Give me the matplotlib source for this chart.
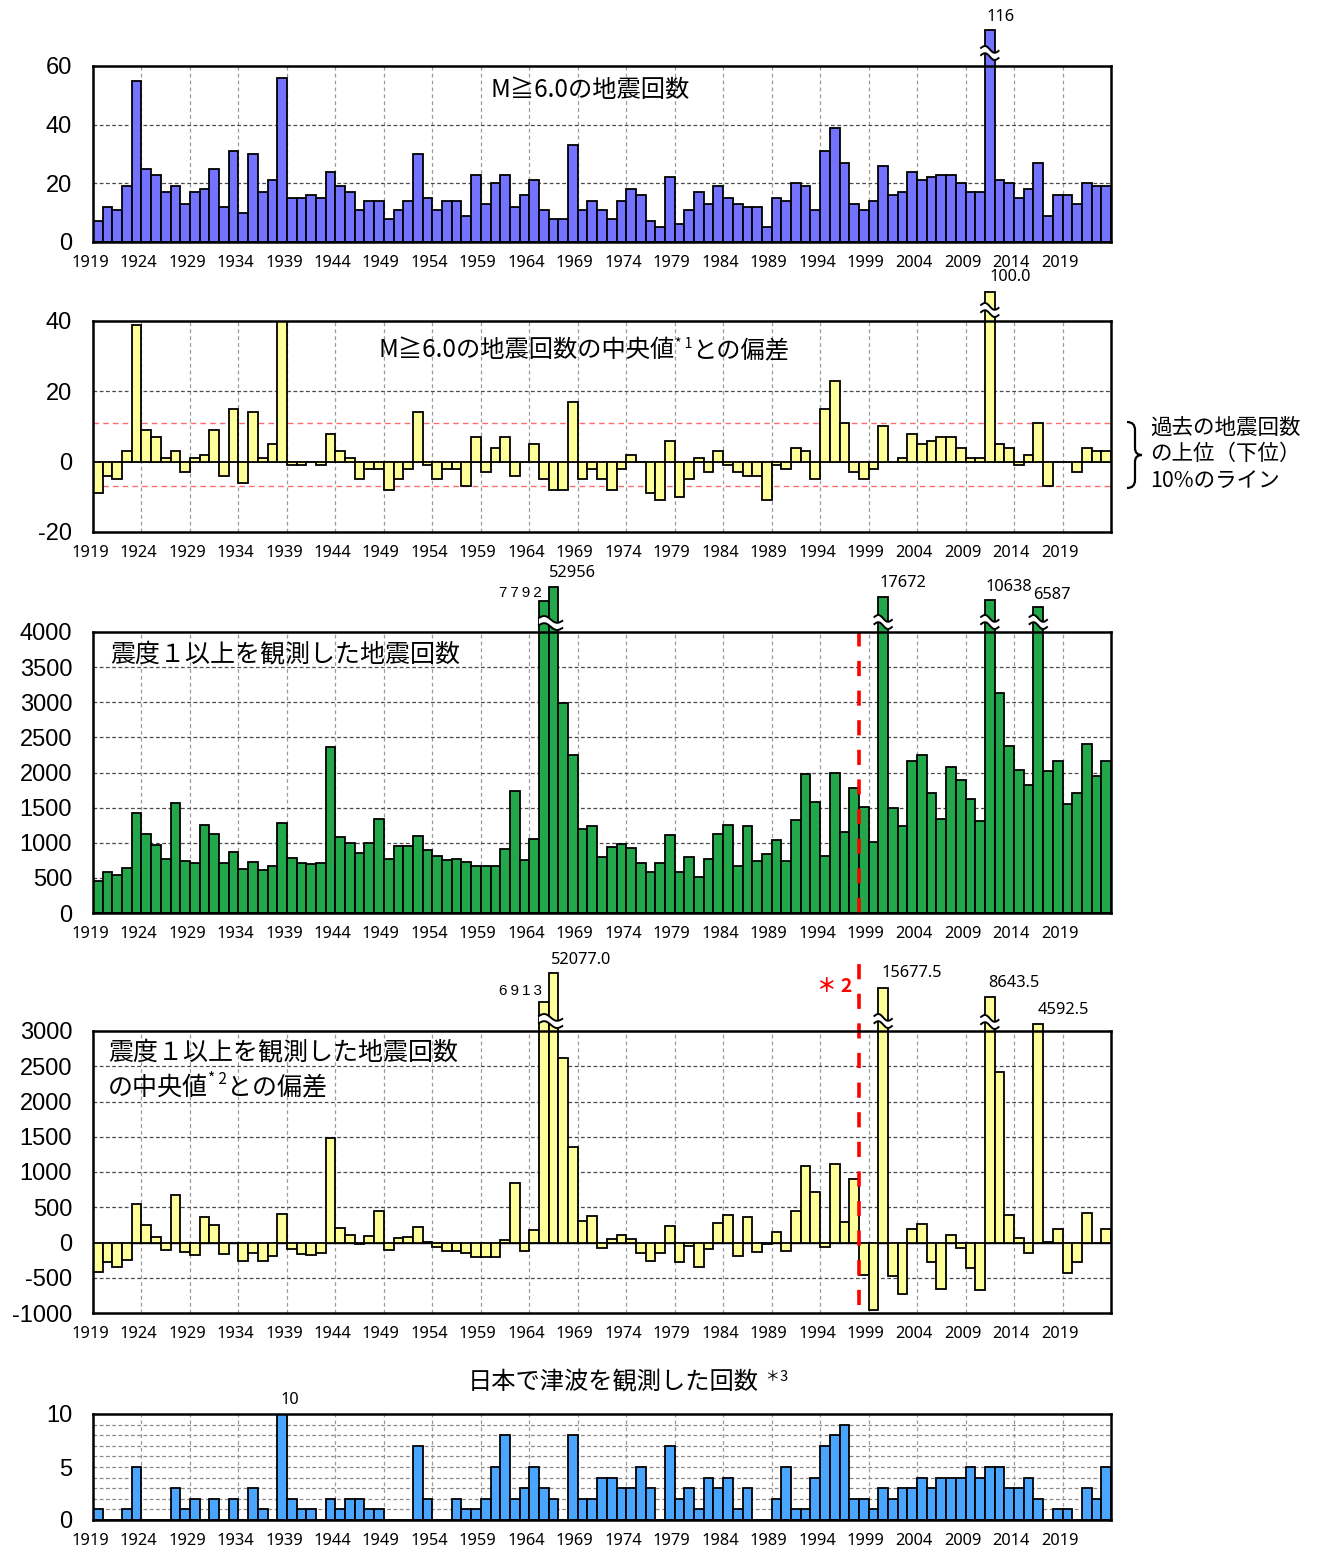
import numpy as np
import matplotlib
matplotlib.use("Agg")
import matplotlib.pyplot as plt
from matplotlib import transforms
from matplotlib.path import Path
from matplotlib.patches import PathPatch
from matplotlib.font_manager import findfont, FontProperties

# ---------------- data ----------------
years = list(range(1919, 2024))
tick_years = list(range(1919, 2020, 5))

m6_counts = [7, 12, 11, 19, 55, 25, 23, 17, 19, 13,
             17, 18, 25, 12, 31, 10, 30, 17, 21, 56,
             15, 15, 16, 15, 24, 19, 17, 11, 14, 14,
             8, 11, 14, 30, 15, 11, 14, 14, 9, 23,
             13, 20, 23, 12, 16, 21, 11, 8, 8, 33,
             11, 14, 11, 8, 14, 18, 16, 7, 5, 22,
             6, 11, 17, 13, 19, 15, 13, 12, 12, 5,
             15, 14, 20, 19, 11, 31, 39, 27, 13, 11,
             14, 26, 16, 17, 24, 21, 22, 23, 23, 20,
             17, 17, 116, 21, 20, 15, 18, 27, 9, 16,
             16, 13, 20, 19, 19]

m6_dev = [-9, -4, -5, 3, 39, 9, 7, 1, 3, -3,
          1, 2, 9, -4, 15, -6, 14, 1, 5, 40,
          -1, -1, 0, -1, 8, 3, 1, -5, -2, -2,
          -8, -5, -2, 14, -1, -5, -2, -2, -7, 7,
          -3, 4, 7, -4, 0, 5, -5, -8, -8, 17,
          -5, -2, -5, -8, -2, 2, 0, -9, -11, 6,
          -10, -5, 1, -3, 3, -1, -3, -4, -4, -11,
          -1, -2, 4, 3, -5, 15, 23, 11, -3, -5,
          -2, 10, 0, 1, 8, 5, 6, 7, 7, 4,
          1, 1, 100.0, 5, 4, -1, 2, 11, -7, 0,
          0, -3, 4, 3, 3]
m6_dev_upper10 = 11
m6_dev_lower10 = -7

shindo_counts = [450, 590, 540, 640, 1420, 1130, 970, 770, 1570, 745,
                 710, 1250, 1120, 710, 870, 620, 725, 610, 675, 1280,
                 790, 710, 700, 715, 2370, 1080, 990, 850, 990, 1340,
                 775, 950, 960, 1095, 900, 810, 755, 765, 725, 670,
                 670, 670, 915, 1735, 760, 1060, 7792, 52956, 2990, 2245,
                 1195, 1245, 800, 935, 980, 925, 715, 588, 707, 1110,
                 579, 802, 508, 764, 1129, 1257, 674, 1233, 735, 835,
                 1039, 740, 1319, 1978, 1580, 806, 1997, 1153, 1774, 1513,
                 1015, 17672, 1499, 1243, 2168, 2253, 1708, 1338, 2083, 1893,
                 1618, 1305, 10638, 3126, 2377, 2040, 1826, 6587, 2016, 2168,
                 1556, 1712, 2410, 1950, 2168]

shindo_dev = [-412, -270, -341, -242, 545, 246, 85, -109, 678, -137,
              -171, 360, 246, -161, 0, -256, -147, -265, -194, 403,
              -95, -161, -171, -152, 1483, 199, 104, -28, 95, 450,
              -100, 62, 81, 218, 14, -66, -123, -114, -152, -199,
              -199, -199, 38, 844, -114, 171, 6913, 52077.0, 2620, 1355,
              303, 374, -71, 52, 109, 43, -147, -265, -147, 237,
              -275, -47, -346, -90, 270, 389, -185, 360, -133, -24,
              156, -118, 450, 1090, 711, -62, 1114, 284, 905, -464,
              -962, 15677.5, -474, -725, 185, 261, -280, -654, 100, -81,
              -365, -678, 8643.5, 2417, 384, 57, -147, 4592.5, 9, 185,
              -431, -275, 422, -14, 185]
median_change_year = 1998

tsunami_counts = [1, 0, 0, 1, 5, 0, 0, 0, 3, 1,
                  2, 0, 2, 0, 2, 0, 3, 1, 0, 10,
                  2, 1, 1, 0, 2, 1, 2, 2, 1, 1,
                  0, 0, 0, 7, 2, 0, 0, 2, 1, 1,
                  2, 5, 8, 2, 3, 5, 3, 2, 0, 8,
                  2, 2, 4, 4, 3, 3, 5, 3, 0, 7,
                  2, 3, 1, 4, 3, 4, 1, 3, 0, 0,
                  2, 5, 1, 1, 4, 7, 8, 9, 2, 2,
                  1, 3, 2, 3, 3, 4, 3, 4, 4, 4,
                  5, 4, 5, 5, 3, 3, 4, 2, 0, 1,
                  1, 0, 3, 2, 5]

# ---------------- fonts ----------------
def pick(*fams):
    for f in fams:
        try:
            findfont(FontProperties(family=f), fallback_to_default=False)
            return f
        except Exception:
            pass
    return "DejaVu Sans"

JP = "Noto Sans CJK JP"
NARROW = pick("Noto Sans", "Liberation Sans", "DejaVu Sans")
ARIAL = pick("Liberation Sans", "DejaVu Sans")
plt.rcParams["font.family"] = [JP, "DejaVu Sans"]

W, H = 1319, 1553
fig = plt.figure(figsize=(W / 100, H / 100), dpi=100)
fig.patch.set_facecolor("white")

LEFT, RIGHT = 93, 1111


def add_axes(top, bottom):
    ax = fig.add_axes([LEFT / W, 1 - bottom / H, (RIGHT - LEFT) / W, (bottom - top) / H])
    return ax, bottom - top


def blend(ax):
    return transforms.blended_transform_factory(ax.transData, ax.transAxes)


def style(ax, ylim, yticks, hgrid, hgrid_color="#4a4a4a"):
    ax.set_xlim(years[0] - 0.5, years[-1] + 0.5)
    ax.set_ylim(*ylim)
    ax.set_yticks(yticks)
    ax.set_yticklabels([str(v) for v in yticks], fontfamily=ARIAL, fontsize=17)
    ax.set_xticks([y - 0.5 for y in tick_years])
    ax.set_xticklabels([str(y) for y in tick_years], fontfamily=NARROW, fontsize=11.8)
    ax.tick_params(axis="both", length=0)
    ax.tick_params(axis="y", pad=15)
    ax.tick_params(axis="x", pad=9.5)
    shift = transforms.ScaledTranslation(-3 / 100, 0, fig.dpi_scale_trans)
    for lbl in ax.get_xticklabels():
        lbl.set_transform(lbl.get_transform() + shift)
    for s in ax.spines.values():
        s.set_linewidth(1.8)
        s.set_zorder(7)
    for y in tick_years[1:]:
        ax.axvline(y - 0.5, color="#9a9a9a", lw=0.9, ls=(0, (3, 2.5)), zorder=0.5)
    for v in hgrid:
        ax.axhline(v, color=hgrid_color, lw=0.9, ls=(0, (3, 2)), zorder=0.6)


def bars(ax, vals, color, ylim, ax_h, ext):
    rng = ylim[1] - ylim[0]
    heights = []
    for yr, v in zip(years, vals):
        if yr in ext:
            heights.append(ylim[1] + ext[yr] / ax_h * rng)
        else:
            heights.append(v)
    bc = ax.bar(years, heights, width=1.0, color=color, edgecolor="black",
                linewidth=1.3, zorder=3)
    for p, yr in zip(bc.patches, years):
        if yr in ext:
            p.set_clip_on(False)
    return bc


def zigzag(ax, x0, x1, off_px, ax_h):
    tr = blend(ax)
    t = np.linspace(0, 1, 80)
    xs = x0 + (x1 - x0) * t
    px = 1.0 / ax_h
    wave = (2.6 * np.sin(2 * np.pi * t) - 3.0 * (t - 0.5)) * px
    base = 1 + off_px * px
    gap = 3.6 * px
    upper = base + gap + wave
    lower = base - gap + wave
    ax.fill(np.r_[xs, xs[::-1]], np.r_[upper, lower[::-1]], transform=tr,
            color="white", zorder=5, clip_on=False, lw=0)
    ax.plot(xs, upper, transform=tr, color="black", lw=1.4, zorder=6, clip_on=False)
    ax.plot(xs, lower, transform=tr, color="black", lw=1.4, zorder=6, clip_on=False)


def label(ax, text, year, dx, dy, ha="center", family=None, size=11.8, **kw):
    ax.annotate(text, xy=(year, 1.0), xycoords=blend(ax), xytext=(dx, dy),
                textcoords="offset pixels", ha=ha, va="center",
                fontfamily=family or NARROW, fontsize=size,
                annotation_clip=False, zorder=8, **kw)


renderer = fig.canvas.get_renderer()


def rich(x_px, y_center_px, pieces, ha="left", color="black"):
    texts, widths = [], []
    for s, size, rise in pieces:
        t = fig.text(0, 0, s, fontsize=size, fontfamily=[JP, "DejaVu Sans"],
                     va="baseline", ha="left", color=color)
        widths.append(t.get_window_extent(renderer=renderer).width)
        texts.append(t)
    total = sum(widths)
    x = x_px - (total / 2 if ha == "center" else 0)
    main = max(p[1] for p in pieces)
    base = y_center_px + 0.38 * main * 100 / 72
    for t, w, (s, size, rise) in zip(texts, widths, pieces):
        t.set_position((x / W, 1 - (base - rise) / H))
        x += w


# ---------------- panel 1 ----------------
ax1, h1 = add_axes(66, 242)
yl1 = (0, 60)
bars(ax1, m6_counts, "#7373FF", yl1, h1, {2011: 36})
zigzag(ax1, 2010.1, 2011.9, 13, h1)
label(ax1, "116", 2011, 11, 49)
style(ax1, yl1, [0, 20, 40, 60], [20, 40])
rich(590, 88, [("M≧6.0の地震回数", 17.5, 0)], ha="center")

# ---------------- panel 2 ----------------
ax2, h2 = add_axes(321, 532)
yl2 = (-20, 40)
bars(ax2, m6_dev, "#FFFF99", yl2, h2, {2011: 29})
zigzag(ax2, 2010.1, 2011.9, 11, h2)
label(ax2, "100.0", 2011, 20, 44)
ax2.axhline(0, color="#8c8c8c", lw=1.4, zorder=1)
ax2.axhline(m6_dev_upper10, color="#FF6B6B", lw=1.0, ls=(0, (4, 3)), zorder=1.5)
ax2.axhline(m6_dev_lower10, color="#FF6B6B", lw=1.0, ls=(0, (4, 3)), zorder=1.5)
style(ax2, yl2, [-20, 0, 20, 40], [20])
rich(584, 348, [("M≧6.0の地震回数の中央値", 17.5, 0), ("* 1", 10, 9), ("との偏差", 17.5, 0)],
     ha="center")

# brace and note on the right
bx0, bx1, bx2 = 1127, 1135, 1142
by0, bym, by1 = 422, 455, 488
verts = [(bx0, by0), (bx1, by0), (bx1, by0 + 8), (bx1, bym - 7), (bx1, bym), (bx2, bym),
         (bx1, bym), (bx1, bym + 7), (bx1, by1 - 8), (bx1, by1), (bx0, by1)]
codes = [Path.MOVETO, Path.CURVE3, Path.CURVE3, Path.LINETO, Path.CURVE3, Path.CURVE3,
         Path.CURVE3, Path.CURVE3, Path.LINETO, Path.CURVE3, Path.CURVE3]
verts_fig = [(x / W, 1 - y / H) for x, y in verts]
fig.add_artist(PathPatch(Path(verts_fig, codes), transform=fig.transFigure,
                         fill=False, lw=1.6, edgecolor="black"))
for txt, yy in [("過去の地震回数", 428), ("の上位（下位）", 454), ("10%のライン", 481)]:
    fig.text(1150 / W, 1 - yy / H, txt, fontsize=15.5, va="center", ha="left",
             fontfamily=[JP, "DejaVu Sans"])

# ---------------- panel 3 ----------------
ax3, h3 = add_axes(632, 913)
yl3 = (0, 4000)
bars(ax3, shindo_counts, "#22A84A", yl3, h3, {1965: 31, 1966: 45, 2000: 35, 2011: 32, 2016: 25})
zigzag(ax3, 1964.5, 1966.9, 9, h3)
zigzag(ax3, 1999.1, 2000.9, 10, h3)
zigzag(ax3, 2010.1, 2011.9, 10, h3)
zigzag(ax3, 2015.1, 2016.9, 10, h3)
label(ax3, "7\u20097\u20099\u20092", 1965, -2, 39, ha="right", family=ARIAL, size=11)
label(ax3, "52956", 1966, 19, 59)
label(ax3, "17672", 2000, 20, 49)
label(ax3, "10638", 2011, 19, 45)
label(ax3, "6587", 2016, 14, 37)
ax3.axvline(median_change_year - 0.5, color="#FF0000", lw=2.6, ls=(0, (4.2, 4.0)), zorder=4)
style(ax3, yl3, list(range(0, 4001, 500)), list(range(500, 4000, 500)))
rich(110, 652, [("震度１以上を観測した地震回数", 18, 0)])

# ---------------- panel 4 ----------------
ax4, h4 = add_axes(1031, 1313)
yl4 = (-1000, 3000)
bars(ax4, shindo_dev, "#FFFF99", yl4, h4, {1965: 29, 1966: 58, 2000: 43, 2011: 34, 2016: 7})
zigzag(ax4, 1964.5, 1966.9, 10, h4)
zigzag(ax4, 1999.1, 2000.9, 10, h4)
zigzag(ax4, 2010.1, 2011.9, 9, h4)
label(ax4, "6\u20099\u20091\u20093", 1965, -2, 40, ha="right", family=ARIAL, size=11)
label(ax4, "52077.0", 1966, 28, 71)
label(ax4, "15677.5", 2000, 29, 58)
label(ax4, "8643.5", 2011, 24, 48)
label(ax4, "4592.5", 2016, 25, 21)
ax4.axhline(0, color="black", lw=1.0, zorder=1)
ax4.plot([median_change_year - 0.5] * 2, [8 / h4, 1 + 73 / h4],
         transform=blend(ax4), color="#FF0000", lw=2.6, ls=(0, (4.2, 4.0)),
         zorder=4, clip_on=False)
label(ax4, "＊ 2", median_change_year - 0.5, -24, 44, family=[JP, "DejaVu Sans"],
      size=14, color="#FF0000", fontweight="bold")
style(ax4, yl4, list(range(-1000, 3001, 500)), [v for v in range(-500, 3000, 500) if v != 0])
rich(108, 1050, [("震度１以上を観測した地震回数", 18, 0)])
rich(108, 1085, [("の中央値", 18, 0), ("* 2", 11, 10), ("との偏差", 18, 0)])

# ---------------- panel 5 ----------------
ax5, h5 = add_axes(1414, 1520)
yl5 = (0, 10)
bars(ax5, tsunami_counts, "#4AA5FF", yl5, h5, {})
label(ax5, "10", 1938, 8, 14)
style(ax5, yl5, [0, 5, 10], list(range(1, 10)), hgrid_color="#8a8a8a")
rich(628, 1380, [("日本で津波を観測した回数", 17.5, 0), ("  ＊3", 10.5, 8)], ha="center")

fig.savefig("out.png", dpi=100, facecolor="white")
